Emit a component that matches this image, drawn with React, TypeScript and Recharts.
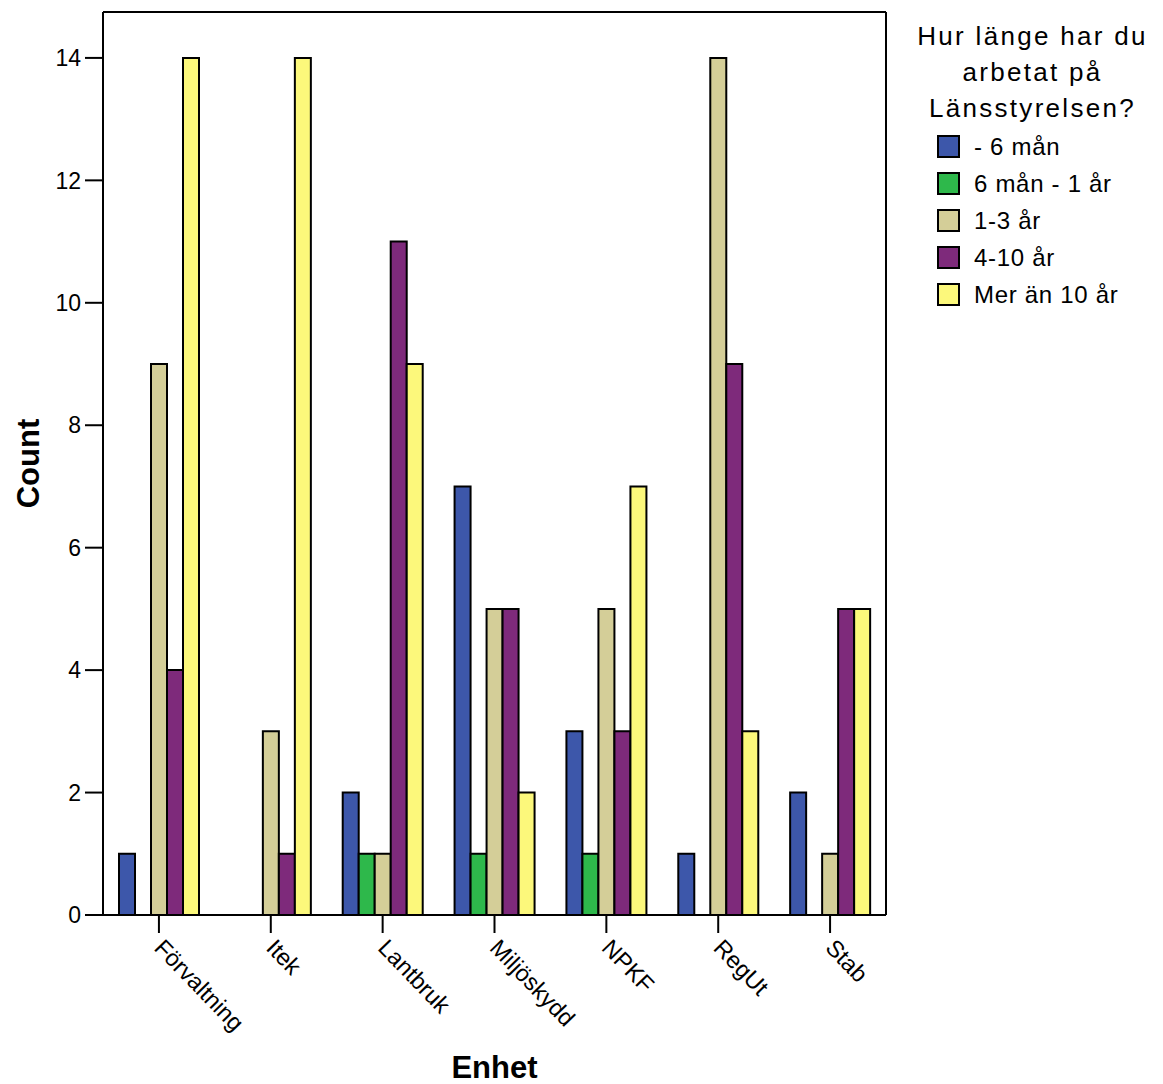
import React from 'react';
import { BarChart, Bar, XAxis, YAxis, Label } from 'recharts';

// Enhet (unit) categories
const units = ['Förvaltning', 'Itek', 'Lantbruk', 'Miljöskydd', 'NPKF', 'RegUt', 'Stab'];

// counts per tenure group, one value per unit
const upTo6m = [1, 0, 2, 7, 3, 1, 2];
const m6to1y = [0, 0, 1, 1, 1, 0, 0];
const y1to3 = [9, 3, 1, 5, 5, 14, 1];
const y4to10 = [4, 1, 11, 5, 3, 9, 5];
const over10 = [14, 14, 9, 2, 7, 3, 5];

const yTicks = [0, 2, 4, 6, 8, 10, 12, 14];
const legendTitle = ['Hur länge har du', 'arbetat på', 'Länsstyrelsen?'];

const series = [
  { key: 's1', name: '- 6 mån', color: '#3d57aa', values: upTo6m },
  { key: 's2', name: '6 mån - 1 år', color: '#2eb84b', values: m6to1y },
  { key: 's3', name: '1-3 år', color: '#d4ce98', values: y1to3 },
  { key: 's4', name: '4-10 år', color: '#7e2a7b', values: y4to10 },
  { key: 's5', name: 'Mer än 10 år', color: '#fcf87b', values: over10 },
];

const data = units.map((u, i) => {
  const row: any = { unit: u };
  series.forEach(s => { row[s.key] = s.values[i]; });
  return row;
});

const FONT = '"Liberation Sans", Arial, sans-serif';

const XTick = (props: any) => {
  const { x, y, payload } = props;
  return (
    <text
      transform={`translate(${x},${y}) rotate(46)`}
      dx={6}
      dy={14}
      fontSize={23.5}
      fontFamily={FONT}
      fill="#000"
      textAnchor="start"
    >
      {payload.value}
    </text>
  );
};

const LegendBox = () => (
  <div style={{ position: 'absolute', left: 905, top: 18, width: 255, fontFamily: FONT, color: '#000' }}>
    <div style={{ textAlign: 'center', fontSize: 26, lineHeight: '36px', letterSpacing: 2.3, marginBottom: 2 }}>
      {legendTitle.map(t => <div key={t}>{t}</div>)}
    </div>
    {series.map(s => (
      <div key={s.key} style={{ display: 'flex', alignItems: 'center', height: 37, paddingLeft: 32 }}>
        <span style={{ width: 19, height: 19, background: s.color, border: '2px solid #000', display: 'inline-block' }} />
        <span style={{ fontSize: 24, marginLeft: 14, letterSpacing: 0.7 }}>{s.name}</span>
      </div>
    ))}
  </div>
);

export default function App() {
  return (
    <div style={{ position: 'absolute', left: 0, top: 0, width: 1163, height: 1084, background: '#fff' }}>
      <BarChart
        width={1163}
        height={1084}
        data={data}
        margin={{ top: 11, right: 276, left: 0, bottom: 0 }}
        barCategoryGap={16}
        barGap={0}
      >
        <XAxis
          dataKey="unit"
          height={169}
          tickSize={18}
          tickLine={{ stroke: '#000', strokeWidth: 2 }}
          axisLine={{ stroke: '#000', strokeWidth: 2 }}
          tick={<XTick />}
          interval={0}
        >
          <Label
            value="Enhet"
            position="insideBottom"
            offset={6}
            style={{ fontSize: 31, fontWeight: 'bold', fontFamily: FONT, fill: '#000' }}
          />
        </XAxis>
        <XAxis xAxisId="top" orientation="top" dataKey="unit" height={1} tick={false} tickLine={false} axisLine={{ stroke: '#000', strokeWidth: 2 }} />
        <YAxis
          width={103}
          domain={[0, 14.75]}
          ticks={yTicks}
          tickSize={18}
          tickMargin={4}
          tickLine={{ stroke: '#000', strokeWidth: 2 }}
          axisLine={{ stroke: '#000', strokeWidth: 2 }}
          tick={{ fontSize: 23, fill: '#000', fontFamily: FONT }}
          label={({ viewBox }: any) => (
            <text
              x={viewBox.x + 28}
              y={viewBox.y + viewBox.height / 2}
              transform={`rotate(-90 ${viewBox.x + 28} ${viewBox.y + viewBox.height / 2})`}
              textAnchor="middle"
              dominantBaseline="central"
              fontSize={31}
              fontWeight="bold"
              fontFamily={FONT}
              fill="#000"
            >
              Count
            </text>
          )}
        />
        <YAxis yAxisId="right" orientation="right" width={1} domain={[0, 14.75]} tick={false} tickLine={false} axisLine={{ stroke: '#000', strokeWidth: 2 }} />
        {series.map(s => (
          <Bar
            key={s.key}
            dataKey={s.key}
            name={s.name}
            fill={s.color}
            stroke="#000"
            strokeWidth={2}
            isAnimationActive={false}
          />
        ))}
      </BarChart>
      <LegendBox />
    </div>
  );
}
